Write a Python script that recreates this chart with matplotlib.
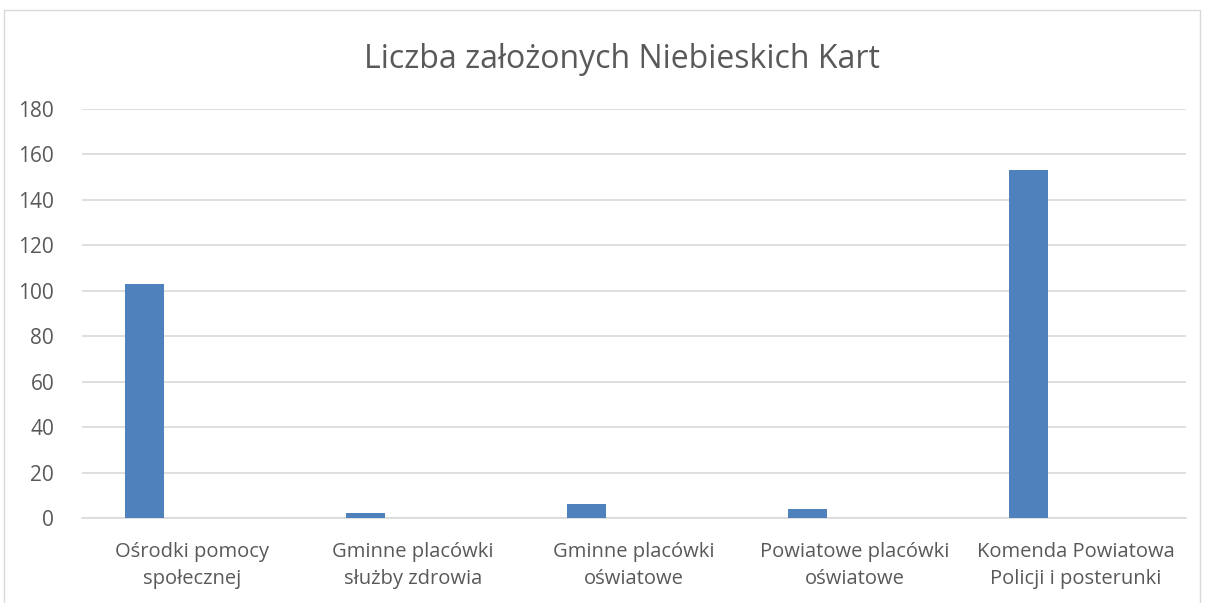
import matplotlib.pyplot as plt
from matplotlib.patches import Rectangle
import numpy as np

categories = ['Ośrodki pomocy\nspołecznej', 'Gminne placówki\nsłużby zdrowia',
              'Gminne placówki\noświatowe', 'Powiatowe placówki\noświatowe',
              'Komenda Powiatowa\nPolicji i posterunki']
values = [103, 2, 6, 4, 153]
yticks = [0, 20, 40, 60, 80, 100, 120, 140, 160, 180]

plt.rcParams['font.family'] = ['Open Sans', 'DejaVu Sans']

fig = plt.figure(figsize=(12.06, 6.03), dpi=100)
ax = fig.add_axes([82 / 1206, 1 - 518 / 603, 1104 / 1206, 409 / 603])

x = np.arange(len(categories))
ax.bar(x - 0.215, values, width=0.177, color='#4f81bd', zorder=3)

ax.set_xlim(-0.5, len(categories) - 0.5)
ax.set_ylim(0, 180)
ax.set_yticks(yticks)
ax.set_xticks(x)
ax.set_xticklabels(categories, fontsize=14.5, color='#595959', linespacing=1.5)
ax.tick_params(axis='y', labelsize=15, labelcolor='#595959', length=0, pad=20)
ax.tick_params(axis='x', length=0, pad=17)
ax.grid(axis='y', color='#d9d9d9', linewidth=1.2, zorder=0)
for s in ['top', 'right', 'left']:
    ax.spines[s].set_visible(False)
ax.spines['bottom'].set_color('#d9d9d9')
ax.spines['bottom'].set_linewidth(1.2)

fig.text(0.516, 1 - 60 / 603, 'Liczba założonych Niebieskich Kart', ha='center', va='center',
         fontsize=23, color='#595959')

fig.patches.append(Rectangle((4 / 1206, -0.01), 1196 / 1206, 1 - 10 / 603 + 0.01,
                             transform=fig.transFigure, fill=False,
                             edgecolor='#d9d9d9', linewidth=1))

plt.savefig('out.png', dpi=100)
